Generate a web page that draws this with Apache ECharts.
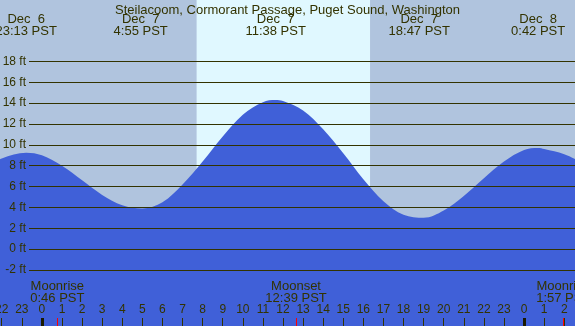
<!DOCTYPE html>
<html>
<head>
<meta charset="utf-8">
<script src="https://cdn.jsdelivr.net/npm/echarts@6.0.0/dist/echarts.min.js"></script>
<style>
  html, body { margin: 0; padding: 0; }
  #tide { width: 575px; height: 326px; }
</style>
</head>
<body>
<div id="tide"></div>
<script>
// tide heights (ft), hour 0 = Dec 7 00:00 PST
const hours = [-3, -2, -0.78, 0, 1, 2, 3, 4, 5, 6, 7, 8, 9, 10, 11, 11.63, 12, 13,
  14, 15, 16, 17, 18, 19, 20, 21, 22, 23, 24, 24.7, 25, 26, 27];
const heights = [7.6, 8.7, 9.25, 9.0, 8.0, 6.6, 5.2, 4.2, 3.9, 4.5, 6.2, 8.4, 10.8,
  12.9, 14.1, 14.3, 14.2, 13.3, 11.5, 9.2, 6.7, 4.6, 3.3, 3.0, 3.7, 5.1, 6.8, 8.4,
  9.5, 9.7, 9.6, 9.1, 8.2];

// high / low tide times
const tideDates = ['Dec  6', 'Dec  7', 'Dec  7', 'Dec  7', 'Dec  8'];
const tideDayOffset = [-1, 0, 0, 0, 1];
const tideClock = ['23:13', '4:55', '11:38', '18:47', '0:42'];

// moon events
const moonEvents = ['Moonrise', 'Moonset', 'Moonrise'];
const moonDayOffset = [0, 0, 1];
const moonClock = ['0:46', '12:39', '1:57'];

// daylight
const sunClock = ['7:42', '16:20'];

const hourTicks = [-2, -1, 0, 1, 2, 3, 4, 5, 6, 7, 8, 9, 10, 11, 12, 13, 14, 15,
  16, 17, 18, 19, 20, 21, 22, 23, 24, 25, 26];
const midnightTicks = [0, 24];
const feetTicks = [-2, 0, 2, 4, 6, 8, 10, 12, 14, 16, 18];

const tMin = -2.086, tMax = 26.535;
const fMin = -7.38, fMax = 23.9;

const ink = '#333300';
const font = 'Liberation Sans';

function toHour(clock, dayOff) {
  let p = clock.split(':');
  return dayOff * 24 + Number(p[0]) + Number(p[1]) / 60;
}

const tideTimes = tideClock.map((c, i) => toHour(c, tideDayOffset[i]));
const moonTimes = moonClock.map((c, i) => toHour(c, moonDayOffset[i]));
const sunTimes = sunClock.map(c => toHour(c, 0));

function findIdx(list, v) {
  return list.findIndex(x => Math.abs(x - v) < 1e-6);
}

function timeAxis(extra) {
  return Object.assign({
    type: 'value',
    gridIndex: 0,
    position: 'bottom',
    min: tMin,
    max: tMax,
    z: 5,
    axisLine: { show: false, onZero: false },
    splitLine: { show: false },
    axisTick: { show: false },
    axisLabel: { show: false }
  }, extra);
}

let option = {
  animation: false,
  title: {
    text: 'Steilacoom, Cormorant Passage, Puget Sound, Washington',
    left: 'center',
    top: -1,
    textStyle: { fontFamily: font, fontSize: 13, fontWeight: 'normal', color: ink }
  },
  grid: [
    { left: 0, right: 0, top: 0, bottom: 0, show: true, backgroundColor: '#b0c4de', borderWidth: 0, outerBoundsMode: 'none', containLabel: false },
    { left: 29, right: 0, top: 0, bottom: 0, outerBoundsMode: 'none', containLabel: false }
  ],
  xAxis: [
    // hour ticks + labels
    timeAxis({
      axisTick: { show: true, inside: true, length: 8, customValues: hourTicks, lineStyle: { color: ink, width: 1 } },
      axisLabel: {
        show: true, inside: true, margin: 10, customValues: hourTicks,
        fontFamily: font, fontSize: 12, color: ink,
        formatter: v => String(((Math.round(v) % 24) + 24) % 24)
      }
    }),
    // midnight
    timeAxis({
      axisTick: { show: true, inside: true, length: 8, customValues: midnightTicks, lineStyle: { color: '#1a1a00', width: 3 } }
    }),
    // moon events
    timeAxis({
      axisTick: { show: true, inside: true, length: 8, customValues: moonTimes, lineStyle: { color: '#ff0000', width: 1 } },
      axisLabel: {
        show: true, inside: true, margin: 22, customValues: moonTimes,
        fontFamily: font, fontSize: 13, lineHeight: 12, color: ink,
        formatter: v => {
          let i = findIdx(moonTimes, v);
          return moonEvents[i] + '\n' + moonClock[i] + ' PST';
        }
      }
    }),
    // high / low tide labels
    timeAxis({
      position: 'top',
      axisLabel: {
        show: true, inside: true, margin: 13, customValues: tideTimes,
        fontFamily: font, fontSize: 13, lineHeight: 12, color: ink,
        formatter: v => {
          let i = findIdx(tideTimes, v);
          return tideDates[i] + '\n' + tideClock[i] + ' PST';
        }
      }
    }),
    { type: 'value', gridIndex: 1, min: tMin, max: tMax, show: false }
  ],
  yAxis: [
    { type: 'value', gridIndex: 0, min: fMin, max: fMax, show: false },
    {
      type: 'value',
      gridIndex: 1,
      min: fMin,
      max: fMax,
      z: 5,
      axisLine: { show: false, onZero: false },
      axisTick: { show: false, customValues: feetTicks },
      splitLine: { show: true, lineStyle: { color: ink, width: 1 } },
      axisLabel: {
        customValues: feetTicks,
        margin: 3,
        fontFamily: font, fontSize: 12, color: ink,
        formatter: v => v + ' ft'
      }
    }
  ],
  series: [
    {
      // daylight band
      type: 'line',
      xAxisIndex: 0,
      yAxisIndex: 0,
      z: 1,
      data: [],
      markArea: {
        silent: true,
        itemStyle: { color: '#e0f8ff' },
        data: [[{ xAxis: sunTimes[0] }, { xAxis: sunTimes[1] }]]
      }
    },
    {
      type: 'line',
      xAxisIndex: 0,
      yAxisIndex: 0,
      z: 2,
      smooth: 0.35,
      showSymbol: false,
      lineStyle: { width: 0 },
      areaStyle: { color: '#4060d8', opacity: 1, origin: 'start' },
      data: hours.map((h, i) => [h, heights[i]])
    }
  ]
};

echarts.init(document.getElementById('tide')).setOption(option);
</script>
</body>
</html>
